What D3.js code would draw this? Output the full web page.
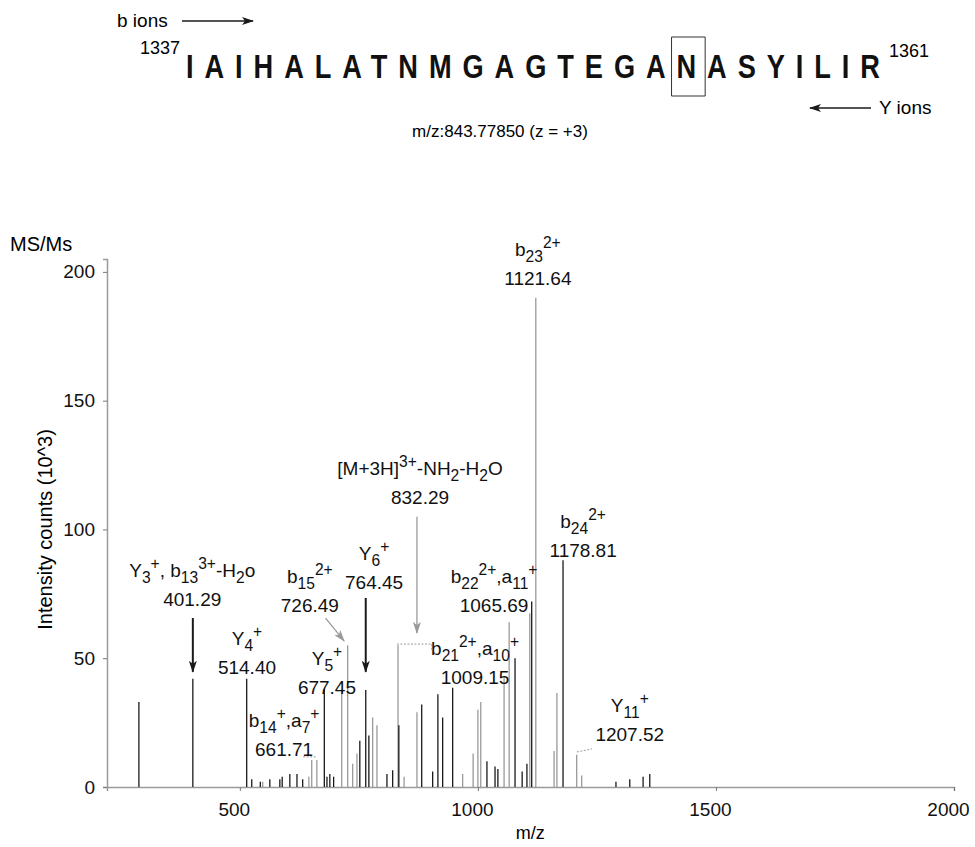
<!DOCTYPE html>
<html>
<head>
<meta charset="utf-8">
<script src="https://cdn.jsdelivr.net/npm/d3@7"></script>
<style>
  body { margin: 0; background: #fff; }
  svg { display: block; font-family: "Liberation Sans", Arial, sans-serif; }
</style>
</head>
<body>
<svg id="chart" width="975" height="847"></svg>
<script>
'use strict';

// peptide sequence (residues 1337-1361), boxed residue index
var seqBefore = 'IAIHALATNMGAGTEGA';
var seqBoxed = 'N';
var seqAfter = 'ASYILIR';
var seqStart = '1337';
var seqEnd = '1361';
var precursorText = 'm/z:843.77850 (z = +3)';

// spectrum peaks: m/z, intensity (10^3), shade
var peakMz = [288, 401.29, 514.40, 525, 543, 548, 563, 584, 589, 605, 620, 632, 645, 651, 661.71, 677.45, 683, 689, 697, 714, 726.49,
  737, 746, 752, 764.45, 771, 779, 788, 809, 821, 832.29, 834, 845, 872, 882, 905, 916, 926, 947,
  968, 990, 1000, 1006, 1019, 1036, 1042, 1055, 1065.69, 1078, 1093, 1103, 1109, 1113, 1121.64, 1160, 1166,
  1178.81, 1207.52, 1218, 1290, 1319, 1347, 1361];
var peakInt = [33, 42, 42, 3, 2, 2, 3, 3, 4, 5, 5, 3, 4, 10.5, 10.5, 38, 4, 5, 4, 38, 55,
  9, 13, 18, 37.7, 20, 27, 24, 5, 6.5, 55, 24, 4, 29, 32, 6, 36, 27, 38.5,
  5, 13, 30, 33, 10, 8, 7, 43, 64, 50, 6, 9, 67.5, 72, 190, 14, 36.5,
  88, 12.5, 4.5, 2, 3, 4, 5];
var peakShade = ['k', 'k', 'k', 'k', 'k', 'g', 'k', 'k', 'k', 'k', 'k', 'k', 'g', 'g', 'g', 'k', 'k', 'k', 'k', 'g', 'g',
  'g', 'g', 'k', 'k', 'k', 'g', 'g', 'k', 'k', 'g', 'k', 'g', 'g', 'k', 'k', 'k', 'k', 'k',
  'g', 'g', 'g', 'g', 'k', 'k', 'k', 'g', 'g', 'k', 'k', 'k', 'g', 'k', 'g', 'g', 'g',
  'k', 'g', 'g', 'k', 'k', 'k', 'k'];

// ion annotations
var ionNames = ['Y_{3}^{+}, b_{13}^{3+}-H_{2}o', 'Y_{4}^{+}', 'b_{14}^{+},a_{7}^{+}', 'Y_{5}^{+}',
  'b_{15}^{2+}', 'Y_{6}^{+}', '[M+3H]^{3+}-NH_{2}-H_{2}O', 'b_{23}^{2+}', 'b_{24}^{2+}',
  'b_{22}^{2+},a_{11}^{+}', 'b_{21}^{2+},a_{10}^{+}', 'Y_{11}^{+}'];
var ionMz = ['401.29', '514.40', '661.71', '677.45', '726.49', '764.45', '832.29',
  '1121.64', '1178.81', '1065.69', '1009.15', '1207.52'];

var yTicks = [0, 50, 100, 150, 200];
var xTicks = [500, 1000, 1500, 2000];

// label anchors (m/z, intensity of first line baseline)
var LABEL_AT = [[400, 81.6], [515, 55], [593, 23.3], [683, 47.4], [647, 79.2], [782, 88],
  [878.5, 121], [1126, 206], [1221, 100.6], [1034, 79.2], [994, 51.3], [1319, 29.1]];
// arrows: [m1, v1, m2, v2, shade]
var ARROWS = [[401.29, 65.6, 401.29, 44.7, 'k'], [680, 65.6, 719, 56.7, 'g'],
  [764.45, 73.4, 764.45, 44.7, 'k'], [872, 104.9, 872, 59.8, 'g']];
// dotted leaders
var LEADERS = [[[633, 11.7], [660, 11.7]], [[830, 55.5], [903, 55.5], [903, 53]],
  [[1208, 13.6], [1240, 14.8]]];

var FS = 19;
var GREY = '#9a9a9a';
var BLACK = '#1a1a1a';

var svg = d3.select('#chart');

var x = d3.scaleLinear().domain([221, 2000]).range([107, 954]);
var y = d3.scaleLinear().domain([0, 205]).range([787, 259]);

var defs = svg.append('defs');
function marker(id, color) {
  defs.append('marker')
    .attr('id', id)
    .attr('viewBox', '0 0 12 8')
    .attr('refX', 11).attr('refY', 4)
    .attr('markerWidth', 12).attr('markerHeight', 8)
    .attr('markerUnits', 'userSpaceOnUse')
    .attr('orient', 'auto')
    .append('path')
    .attr('d', 'M0,0 L12,4 L0,8 L3,4 Z')
    .attr('fill', color);
}
marker('arrK', BLACK);
marker('arrG', GREY);

// rich text with _{sub} and ^{sup}
function richText(sel, str, fs) {
  var re = /([_^])\{([^}]*)\}|([^_^]+)/g;
  var cur = 0, m;
  while ((m = re.exec(str)) !== null) {
    var off = 0, size = fs, txt = m[3];
    if (m[1] === '_') { off = 0.3 * fs; size = fs * 0.82; txt = m[2]; }
    if (m[1] === '^') { off = -0.42 * fs; size = fs * 0.82; txt = m[2]; }
    sel.append('tspan')
      .attr('dy', off - cur)
      .style('font-size', size + 'px')
      .text(txt);
    cur = off;
  }
}

// ---------- header ----------
var head = svg.append('g');
head.append('text').attr('x', 117).attr('y', 27).style('font-size', '19px').text('b ions');
head.append('line').attr('x1', 182).attr('x2', 253).attr('y1', 21).attr('y2', 21)
  .attr('stroke', BLACK).attr('stroke-width', 1.5).attr('marker-end', 'url(#arrK)');

// sequence: proportional bold font, squeezed horizontally, spaced to fit
var SEQ_LEFT = 186, SEQ_RIGHT = 880, SEQ_BASE = 78, SQUEEZE = 0.8;
var seqG = head.append('g')
  .attr('transform', 'translate(' + SEQ_LEFT + ',' + SEQ_BASE + ') scale(' + SQUEEZE + ',1)');
var seqText = seqG.append('text')
  .style('font-weight', 'bold')
  .style('font-size', '34px')
  .attr('fill', '#111');
seqText.append('tspan').text(seqBefore);
seqText.append('tspan').text(seqBoxed);
seqText.append('tspan').text(seqAfter);
var nChars = (seqBefore + seqBoxed + seqAfter).length;
var natural = seqText.node().getComputedTextLength();
var spacing = ((SEQ_RIGHT - SEQ_LEFT) / SQUEEZE - natural) / (nChars - 1);
seqText.style('letter-spacing', spacing + 'px');
var ext = seqText.node().getExtentOfChar(seqBefore.length);
seqG.append('rect')
  .attr('x', ext.x - 5 / SQUEEZE)
  .attr('y', -41)
  .attr('width', (ext.width - spacing) + 14 / SQUEEZE)
  .attr('height', 59)
  .attr('fill', 'none').attr('stroke', '#333').attr('stroke-width', 1)
  .attr('vector-effect', 'non-scaling-stroke');

head.append('text').attr('x', 180).attr('y', 54).attr('text-anchor', 'end')
  .style('font-size', '18px').text(seqStart);
head.append('text').attr('x', SEQ_RIGHT + 9).attr('y', 57)
  .style('font-size', '18px').text(seqEnd);
head.append('line').attr('x1', 871).attr('x2', 810).attr('y1', 108).attr('y2', 108)
  .attr('stroke', BLACK).attr('stroke-width', 1.5).attr('marker-end', 'url(#arrK)');
head.append('text').attr('x', 879).attr('y', 114).style('font-size', '19px').text('Y ions');
head.append('text').attr('x', 500).attr('y', 137).attr('text-anchor', 'middle')
  .style('font-size', '17px').text(precursorText);

// ---------- axes ----------
var yAxis = d3.axisLeft(y).tickValues(yTicks).tickSize(4).tickPadding(8);
var gy = svg.append('g').attr('transform', 'translate(' + x(221) + ',0)').call(yAxis);
var xAxis = d3.axisBottom(x).tickValues(xTicks).tickFormat(d3.format('d'))
  .tickSize(4).tickPadding(12);
var gx = svg.append('g').attr('transform', 'translate(0,' + y(0) + ')').call(xAxis);
gx.selectAll('.tick text').attr('dx', -6);
[gx, gy].forEach(function (g) {
  g.select('.domain').attr('stroke', GREY).attr('stroke-width', 1.5);
  g.selectAll('.tick line').attr('stroke', '#777');
  g.selectAll('.tick text').style('font-size', FS + 'px')
    .style('font-family', '"Liberation Sans", Arial, sans-serif').attr('fill', '#111');
});

svg.append('text').attr('x', 10).attr('y', 251).style('font-size', '20px').text('MS/Ms');
svg.append('text')
  .attr('transform', 'translate(52,' + y(100) + ') rotate(-90)')
  .attr('text-anchor', 'middle').style('font-size', '20px')
  .text('Intensity counts (10^3)');
svg.append('text').attr('x', x(1110)).attr('y', 839).attr('text-anchor', 'middle')
  .style('font-size', '18px').text('m/z');

// ---------- peaks ----------
var peaks = peakMz.map(function (m, i) { return { mz: m, v: peakInt[i], shade: peakShade[i] }; });
svg.append('g').selectAll('line')
  .data(peaks)
  .enter().append('line')
  .attr('x1', function (d) { return x(d.mz); })
  .attr('x2', function (d) { return x(d.mz); })
  .attr('y1', y(0))
  .attr('y2', function (d) { return y(d.v); })
  .attr('stroke', function (d) { return d.shade === 'k' ? BLACK : GREY; })
  .attr('stroke-width', 1.3);

// ---------- annotations ----------
var ann = svg.append('g');
ionNames.forEach(function (name, i) {
  var p = LABEL_AT[i];
  var t1 = ann.append('text').attr('x', x(p[0])).attr('y', y(p[1]))
    .attr('text-anchor', 'middle').style('font-size', FS + 'px').attr('fill', '#111');
  richText(t1, name, FS);
  ann.append('text').attr('x', x(p[0])).attr('y', y(p[1]) + 29)
    .attr('text-anchor', 'middle').style('font-size', FS + 'px').attr('fill', '#111')
    .text(ionMz[i]);
});
ann.selectAll('line.arrow')
  .data(ARROWS)
  .enter().append('line')
  .attr('class', 'arrow')
  .attr('x1', function (d) { return x(d[0]); })
  .attr('y1', function (d) { return y(d[1]); })
  .attr('x2', function (d) { return x(d[2]); })
  .attr('y2', function (d) { return y(d[3]); })
  .attr('stroke', function (d) { return d[4] === 'k' ? BLACK : GREY; })
  .attr('stroke-width', function (d) { return d[4] === 'k' ? 2 : 1.3; })
  .attr('marker-end', function (d) { return d[4] === 'k' ? 'url(#arrK)' : 'url(#arrG)'; });
var lineGen = d3.line().x(function (d) { return x(d[0]); }).y(function (d) { return y(d[1]); });
ann.selectAll('path.leader')
  .data(LEADERS)
  .enter().append('path')
  .attr('class', 'leader')
  .attr('d', lineGen)
  .attr('fill', 'none')
  .attr('stroke', GREY)
  .attr('stroke-width', 1)
  .attr('stroke-dasharray', '2,1.5');
</script>
</body>
</html>
